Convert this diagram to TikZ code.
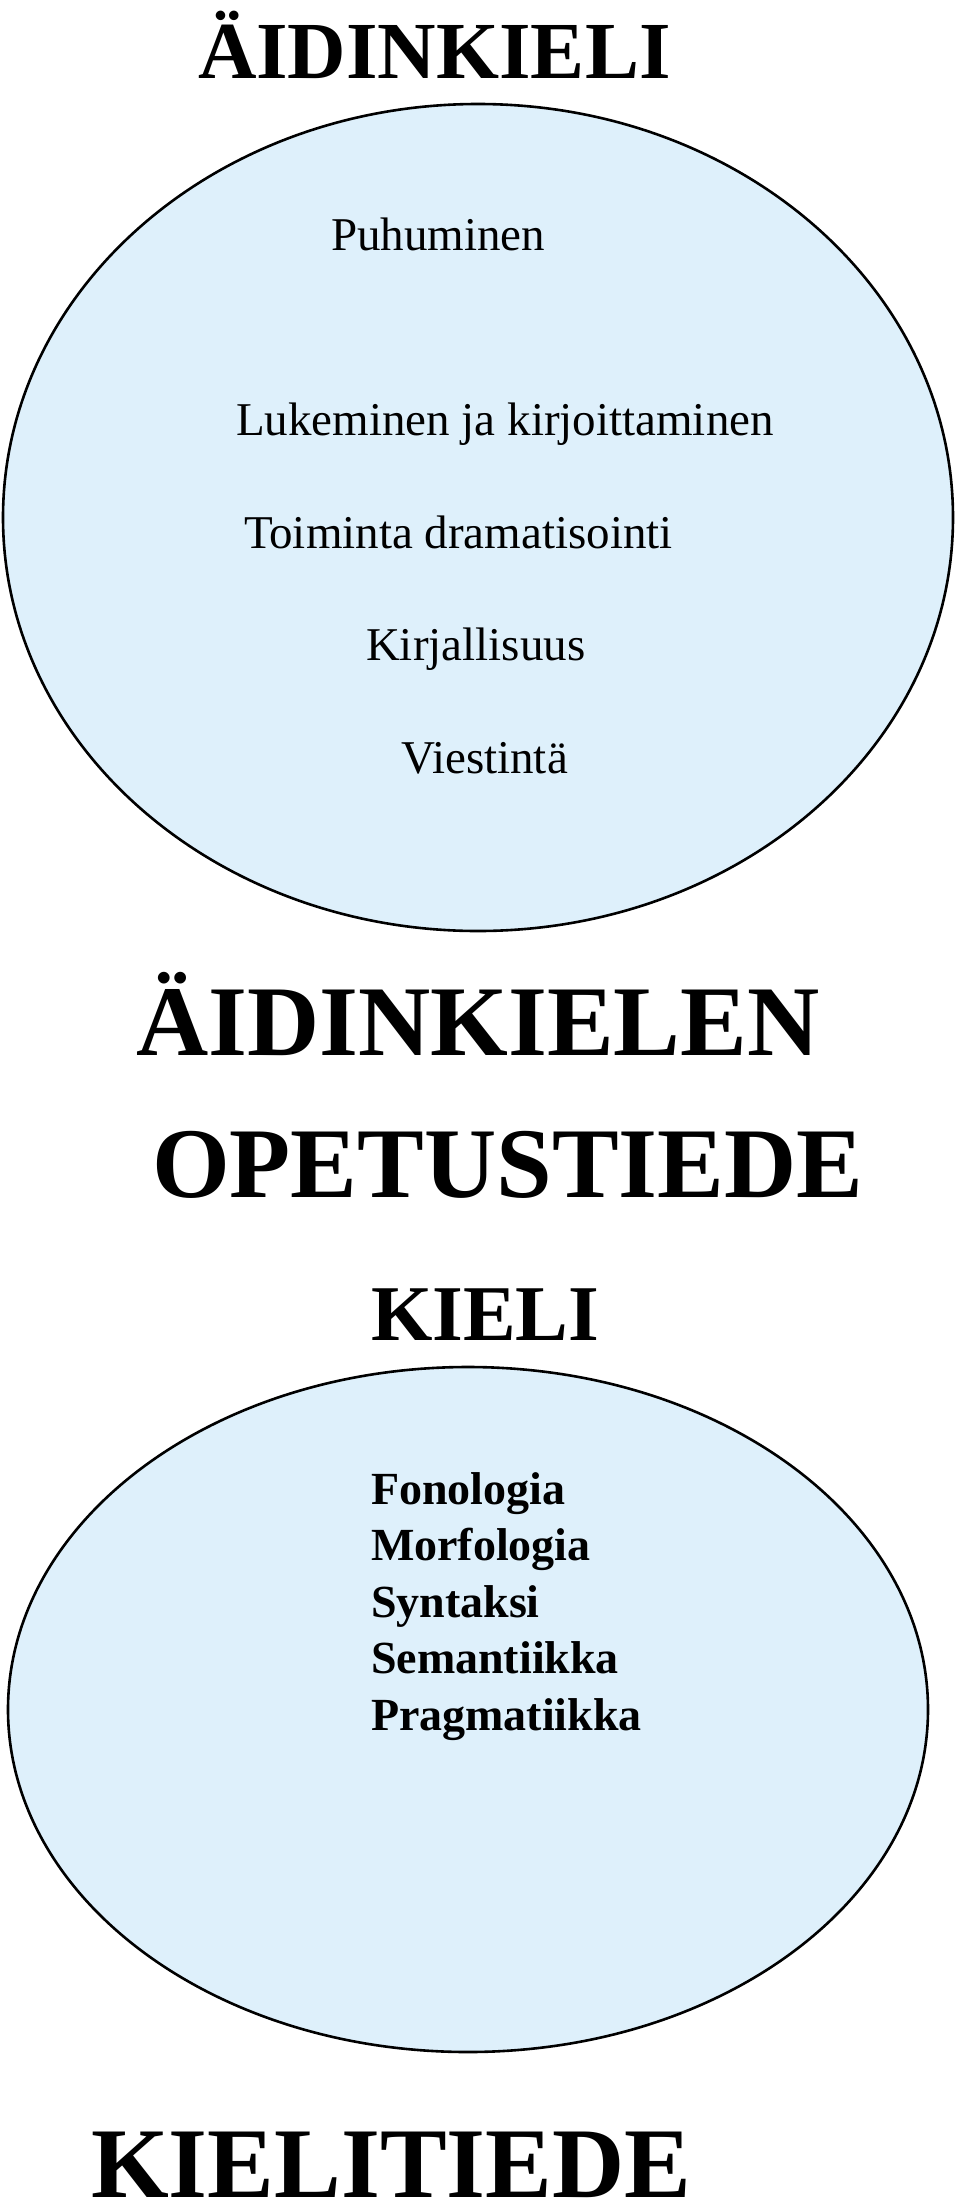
\documentclass[tikz,border=0pt]{standalone}
\usepackage{fontspec}
\setmainfont{Liberation Serif}
\usetikzlibrary{shapes.geometric}
\definecolor{bubble}{RGB}{222,240,251}
\tikzset{
  bubblebox/.style={ellipse, draw=black, line width=2.6pt, fill=bubble, inner sep=0pt, outer sep=0pt},
  txt/.style={anchor=base west, inner sep=0pt, outer sep=0pt, font=\fontsize{47}{50}\selectfont},
  btxt/.style={anchor=base west, inner sep=0pt, outer sep=0pt, font=\bfseries\fontsize{46}{50}\selectfont},
  title/.style={anchor=base west, inner sep=0pt, outer sep=0pt, font=\bfseries\fontsize{#1}{#1}\selectfont}
}
\begin{document}
\begin{tikzpicture}[x=1pt,y=-1pt]
\useasboundingbox (0,0) rectangle (960,2203);
% ellipses
\node[bubblebox, minimum width=950pt, minimum height=827pt] (e1) at (478,517.5) {};
\node[bubblebox, minimum width=920pt, minimum height=685pt] (e2) at (468,1709.5) {};
% titles
\node[title=81] (t1) at (198,78) {ÄIDINKIELI};
\node[title=100] (t2) at (136,1055) {ÄIDINKIELEN};
\node[title=100] (t3) at (152,1197) {OPETUSTIEDE};
\node[title=79] (t4) at (371,1340) {KIELI};
\node[title=100] (t5) at (91,2197) {KIELITIEDE};
% items in first ellipse
\node[txt] (p1) at (331,250) {Puhuminen};
\node[txt] (p2) at (236,435) {Lukeminen ja kirjoittaminen};
\node[txt] (p3) at (244,548) {Toiminta dramatisointi};
\node[txt] (p4) at (366,660) {Kirjallisuus};
\node[txt] (p5) at (401,773) {Viestintä};
% items in second ellipse
\node[btxt] (k1) at (371,1504) {Fonologia};
\node[btxt] (k2) at (371,1560) {Morfologia};
\node[btxt] (k3) at (371,1617) {Syntaksi};
\node[btxt] (k4) at (371,1673) {Semantiikka};
\node[btxt] (k5) at (371,1730) {Pragmatiikka};
\end{tikzpicture}
\end{document}
